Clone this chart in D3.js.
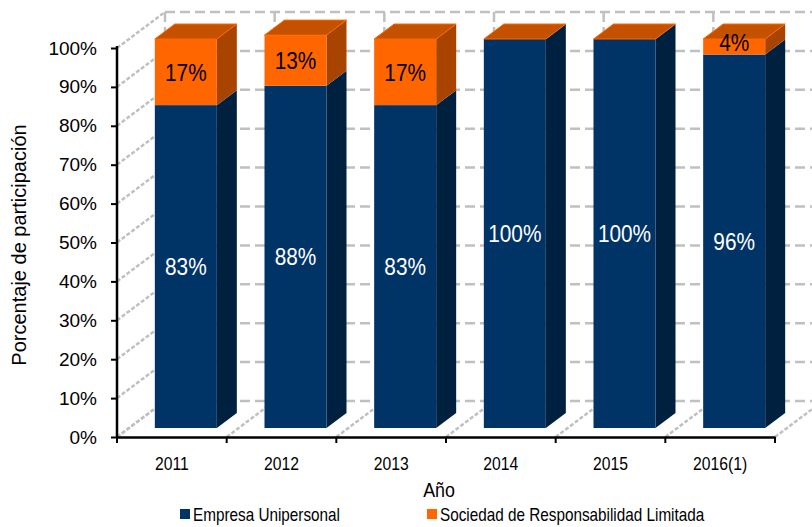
<!DOCTYPE html>
<html>
<head>
<meta charset="utf-8">
<script src="https://cdn.jsdelivr.net/npm/d3@7"></script>
<style>
  body { margin: 0; background: #fff; }
  svg { display: block; }
</style>
</head>
<body>
<script>
var years = ["2011", "2012", "2013", "2014", "2015", "2016(1)"];
var unipersonal = [0.83, 0.88, 0.83, 1.00, 1.00, 0.96];
var limitada = [0.17, 0.13, 0.17, 0.00, 0.00, 0.04];
var unipersonalLabels = ["83%", "88%", "83%", "100%", "100%", "96%"];
var limitadaLabels = ["17%", "13%", "17%", "", "", "4%"];
var yTicks = [0, 0.1, 0.2, 0.3, 0.4, 0.5, 0.6, 0.7, 0.8, 0.9, 1.0];
var seriesNames = ["Empresa Unipersonal", "Sociedad de Responsabilidad Limitada"];

var width = 812, height = 527;
var svg = d3.select("body").append("svg")
  .attr("width", width)
  .attr("height", height);

var font = "'Liberation Sans', Arial, sans-serif";
var squeeze = 0.85; // fake an Arial Narrow look

function narrowText(parent, tx, ty, size, str, anchor) {
  return parent.append("text")
    .attr("transform", "translate(" + tx + "," + ty + ") scale(" + squeeze + ",1)")
    .attr("text-anchor", anchor || "middle")
    .attr("font-family", font)
    .attr("font-size", size)
    .text(str);
}

var x = d3.scaleBand().domain(years).range([117, 775]);
var y = d3.scaleLinear().domain([0, 1]).range([437, 48]);

// depth offsets
var back = {dx: 48, dy: -36};   // back wall
var front = {dx: 12, dy: -9};   // front face of bars
var side = {dx: 20, dy: -15};   // bar depth
var barW = 62;

var grid = svg.append("g")
  .attr("stroke", "#c0c0c0")
  .attr("stroke-width", 2.5)
  .attr("fill", "none");

// back wall horizontal lines + side wall diagonals
yTicks.forEach(function(t) {
  grid.append("line")
    .attr("x1", 117 + back.dx).attr("x2", width + 10)
    .attr("y1", y(t) + back.dy).attr("y2", y(t) + back.dy)
    .attr("stroke-dasharray", "10,5");
  grid.append("line")
    .attr("x1", 117).attr("y1", y(t))
    .attr("x2", 117 + back.dx).attr("y2", y(t) + back.dy)
    .attr("stroke-dasharray", "4,2");
});

// category boundaries: floor diagonals and back wall verticals
var bounds = years.map(function(d) { return x(d); }).concat([x.range()[1]]);
bounds.forEach(function(b) {
  grid.append("line")
    .attr("x1", b).attr("y1", y(0))
    .attr("x2", b + back.dx).attr("y2", y(0) + back.dy)
    .attr("stroke-dasharray", "4,2");
  grid.append("line")
    .attr("x1", b + back.dx).attr("y1", y(1) + back.dy)
    .attr("x2", b + back.dx).attr("y2", y(0) + back.dy)
    .attr("stroke-dasharray", "10,5");
});

// bars
var blue = {front: "#003366", side: "#00203f", top: "#1a4a7a"};
var orange = {front: "#ff6600", side: "#a84400", top: "#c45100"};

function poly(pts) {
  return pts.map(function(p) { return p.join(","); }).join(" ");
}

function drawBox(g, x0, v0, v1, col, showTop) {
  var yb = y(v0) + front.dy, yt = y(v1) + front.dy;
  var x1 = x0 + barW;
  g.append("polygon")
    .attr("points", poly([[x1, yt], [x1 + side.dx, yt + side.dy], [x1 + side.dx, yb + side.dy], [x1, yb]]))
    .attr("fill", col.side);
  g.append("rect")
    .attr("x", x0).attr("y", yt)
    .attr("width", barW).attr("height", Math.max(0, yb - yt))
    .attr("fill", col.front);
  if (showTop) {
    g.append("polygon")
      .attr("points", poly([[x0, yt], [x1, yt], [x1 + side.dx, yt + side.dy], [x0 + side.dx, yt + side.dy]]))
      .attr("fill", col.top)
      .attr("stroke", "#ff6600").attr("stroke-width", 1);
  }
}

var bars = svg.append("g");
years.forEach(function(yr, i) {
  var x0 = x(yr) + (x.bandwidth() - barW) / 2 + front.dx + 2;
  var g = bars.append("g");
  var top = unipersonal[i] + limitada[i];
  drawBox(g, x0, 0, unipersonal[i], blue, false);
  drawBox(g, x0, unipersonal[i], top, orange, true);
  var cx = x0 + barW / 2;
  narrowText(g, cx, (y(0) + y(unipersonal[i])) / 2 + front.dy + 8.5, 24.5, unipersonalLabels[i])
    .attr("fill", "#fff");
  if (limitadaLabels[i]) {
    var ly = (y(unipersonal[i]) + y(top)) / 2 + front.dy;
    if (limitada[i] < 0.08) ly = y(top) + front.dy + 3;
    narrowText(g, cx, ly + 8.5, 24.5, limitadaLabels[i]).attr("fill", "#000");
  }
});

// axes
var yAxis = d3.axisLeft(y)
  .tickValues(yTicks)
  .tickFormat(d3.format(".0%"))
  .tickSize(6)
  .tickPadding(14);
var ga = svg.append("g").attr("transform", "translate(117,0)").call(yAxis);
ga.select(".domain").attr("stroke", "#000").attr("stroke-width", 2.5).attr("d", "M0," + (y(1) - 2) + "V" + y(0));
ga.selectAll(".tick line").attr("stroke", "#000").attr("stroke-width", 2);
ga.selectAll(".tick text")
  .attr("font-family", font)
  .attr("font-size", 19)
  .attr("fill", "#000");

var xAxis = d3.axisBottom(x).tickSize(0).tickPadding(20);
var gx = svg.append("g").attr("transform", "translate(0," + y(0) + ")").call(xAxis);
gx.select(".domain").attr("stroke", "#000").attr("stroke-width", 2.5);
gx.selectAll(".tick text")
  .attr("font-family", font)
  .attr("font-size", 18.5)
  .attr("fill", "#000")
  .attr("transform", "scale(" + squeeze + ",1)");
bounds.forEach(function(b) {
  gx.append("line")
    .attr("x1", b).attr("x2", b)
    .attr("y1", 0).attr("y2", 6)
    .attr("stroke", "#000").attr("stroke-width", 2);
});

// titles
svg.append("text")
  .attr("transform", "translate(26,245) rotate(-90)")
  .attr("text-anchor", "middle")
  .attr("font-family", font)
  .attr("font-size", 20)
  .text("Porcentaje de participación");

narrowText(svg, 439, 497, 21, "Año");

// legend
var legX = [180, 427];
seriesNames.forEach(function(n, i) {
  svg.append("rect")
    .attr("x", legX[i]).attr("y", 509)
    .attr("width", 10).attr("height", 10)
    .attr("fill", i === 0 ? blue.front : orange.front);
  narrowText(svg, legX[i] + 13, 521, 18, n, "start");
});
</script>
</body>
</html>
